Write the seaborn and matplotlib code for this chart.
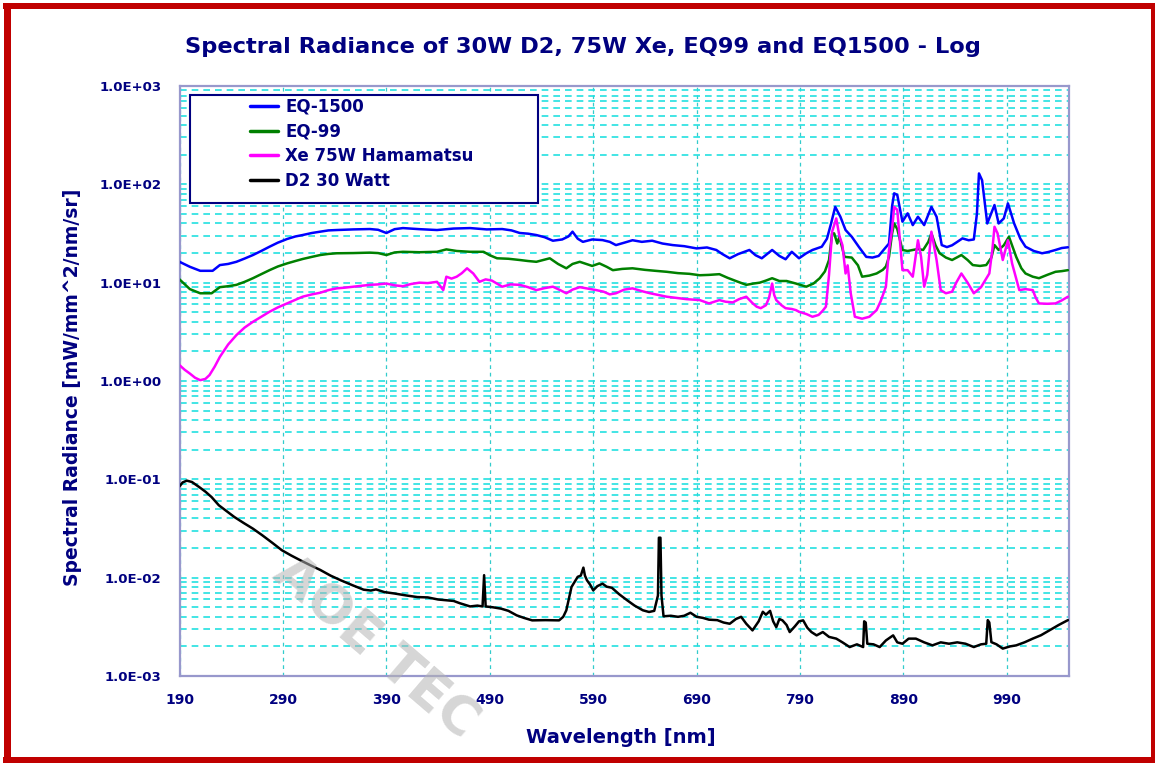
import numpy as np
import pandas as pd
import matplotlib
matplotlib.use("Agg")
import matplotlib.pyplot as plt
import seaborn as sns
from matplotlib.ticker import FixedLocator, LogLocator, FuncFormatter, NullFormatter
from matplotlib.patches import Rectangle

# spectra (wavelength in nm, radiance in mW/mm^2/nm/sr)
eq1500_nm = [190, 200, 210, 222, 229, 237, 245, 253, 261, 269, 277, 285, 294, 302, 309, 318, 326, 334, 342, 358,
             374, 382, 390, 398, 406, 422, 439, 455, 471, 487, 502, 511, 519, 527, 535, 543, 551, 560, 566, 570,
             575, 580, 589, 599, 606, 612, 620, 628, 637, 647, 657, 667, 678, 690, 700, 709, 715, 722, 730, 741,
             747, 753, 758, 763, 770, 776, 782, 789, 796, 802, 811, 816, 820, 824, 829, 834, 840, 847, 854, 860,
             866, 872, 876, 879, 881, 884, 889, 894, 899, 904, 910, 917, 922, 927, 932, 937, 942, 947, 953, 958,
             961, 963, 966, 971, 978, 982, 987, 991, 997, 1003, 1008, 1016, 1024, 1030, 1037, 1043, 1049]
eq1500_val = [16.3, 14.5, 13.2, 13.2, 15.1, 15.5, 16.3, 17.6, 19.1, 21.0, 23.2, 25.5, 27.8, 29.5, 30.5, 32, 33, 34, 34.3, 34.8,
              35.1, 34.5, 32, 35, 35.9, 35.0, 34.3, 35.5, 35.9, 34.8, 35.1, 34.0, 32, 31.5, 30.5, 29, 26.7, 27.5, 29.5, 33,
              28, 26, 27.5, 27.1, 26, 24.1, 25.5, 27, 26, 26.7, 25, 24.1, 23.5, 22.3, 22.8, 21.5, 19.5, 17.7, 19.5, 21.5,
              19.0, 17.7, 19.5, 21.5, 18.7, 17.3, 20.6, 17.7, 19.9, 21.5, 23.2, 28, 40, 59, 46.8, 34.3, 29.3, 23, 18.3, 18.0,
              18.7, 22.3, 25, 60, 81, 78, 41.7, 50.7, 38.5, 46.8, 38.5, 59, 46.8, 24.1, 23, 24, 26, 28.2, 27, 27.5,
              50, 129, 110, 40, 61.6, 40, 45, 64, 40, 28, 23.2, 21, 19.9, 20.5, 21.5, 22.5, 22.9]

eq99_nm = [190, 200, 210, 221, 229, 237, 245, 253, 261, 269, 277, 285, 294, 302, 309, 318, 326, 334, 342, 358,
           374, 382, 390, 398, 406, 422, 439, 448, 458, 471, 484, 490, 497, 508, 519, 527, 535, 548, 556, 564,
           570, 577, 589, 596, 603, 609, 618, 628, 640, 650, 661, 672, 683, 693, 702, 712, 720, 729, 738, 745,
           751, 757, 763, 770, 777, 786, 796, 803, 809, 814, 818, 821, 823, 826, 828, 833, 840, 846, 850, 857,
           864, 870, 873, 876, 879, 881, 884, 889, 894, 899, 904, 909, 914, 917, 921, 925, 931, 937, 946, 952,
           957, 964, 970, 975, 978, 982, 987, 992, 999, 1004, 1008, 1015, 1021, 1029, 1037, 1043, 1049]
eq99_val = [10.8, 8.6, 7.8, 7.8, 9.0, 9.2, 9.5, 10.2, 11.1, 12.2, 13.4, 14.6, 15.7, 16.6, 17.4, 18.3, 19.1, 19.6, 19.9, 20.0,
            20.2, 20.0, 19.1, 20.3, 20.6, 20.4, 20.6, 21.8, 21.0, 20.6, 20.6, 19.0, 17.7, 17.5, 17, 16.6, 16.3, 17.7, 15.5, 14,
            15.5, 16.3, 14.8, 15.7, 14.5, 13.4, 13.8, 14, 13.5, 13.2, 12.9, 12.5, 12.3, 11.9, 12.0, 12.2, 11.2, 10.3, 9.5, 9.8,
            10, 10.5, 11.1, 10.4, 10.4, 9.8, 9.1, 9.8, 11.1, 13, 17, 31.7, 31.7, 25, 29.3, 18.3, 18.0, 15, 11.5, 11.8,
            12.4, 13.5, 14.6, 18.3, 31.7, 40, 35, 21.5, 21, 21.5, 22, 21.5, 26, 31.7, 24, 19.9, 18, 17, 19.1, 17,
            15.1, 14.8, 15.1, 18, 24.1, 21.5, 24, 29.3, 18.3, 14, 12.4, 11.5, 11.1, 12.0, 12.9, 13.1, 13.4]

xe_nm = [190, 195, 200, 205, 210, 215, 219, 224, 229, 237, 245, 253, 261, 269, 277, 285, 294, 302, 309, 318,
         326, 334, 342, 350, 358, 366, 374, 382, 390, 398, 406, 414, 422, 430, 439, 445, 448, 453, 458, 463,
         468, 474, 480, 486, 492, 502, 510, 519, 527, 535, 543, 551, 558, 564, 570, 577, 585, 593, 600, 606,
         612, 620, 628, 637, 645, 653, 661, 670, 680, 693, 702, 712, 718, 725, 731, 738, 744, 748, 752, 757,
         760, 763, 765, 767, 772, 776, 782, 786, 789, 796, 802, 808, 812, 815, 818, 821, 825, 828, 831, 834,
         836, 839, 843, 850, 857, 864, 868, 873, 876, 879, 881, 884, 889, 894, 899, 904, 907, 910, 913, 917,
         922, 926, 931, 937, 941, 946, 952, 958, 965, 973, 976, 978, 981, 986, 991, 995, 1002, 1008, 1015, 1018,
         1021, 1029, 1037, 1043, 1049]
xe_val = [1.45, 1.3, 1.19, 1.08, 1.02, 1.05, 1.15, 1.4, 1.76, 2.35, 2.93, 3.5, 4.0, 4.5, 5.06, 5.6, 6.15, 6.7, 7.2, 7.6,
          7.9, 8.4, 8.75, 8.9, 9.1, 9.3, 9.5, 9.6, 9.8, 9.4, 9.2, 9.7, 10, 9.9, 10.2, 8.4, 11.5, 11.0, 11.5, 12.5,
          14, 12.4, 10.2, 10.8, 10.5, 9.1, 9.6, 9.5, 9.0, 8.4, 8.8, 9.1, 8.4, 7.8, 8.5, 9.0, 8.7, 8.4, 8.1, 7.6,
          7.8, 8.5, 8.75, 8.2, 7.8, 7.5, 7.2, 7.0, 6.8, 6.65, 6.15, 6.65, 6.4, 6.3, 6.8, 7.2, 6.2, 5.7, 5.5, 5.9,
          7.0, 9.8, 7.5, 6.65, 5.9, 5.5, 5.4, 5.26, 5.06, 4.8, 4.5, 4.7, 5.2, 5.7, 12, 33, 45, 30, 24, 12.4,
          15, 7.8, 4.5, 4.3, 4.5, 5.26, 6.5, 9.1, 21.5, 35, 59, 55, 13.4, 13.4, 11.5, 27, 18.3, 9.1, 12, 33,
          17, 8.4, 7.8, 8.1, 10, 12.4, 10, 7.8, 9, 12.4, 22, 37, 31.7, 17, 27, 15.7, 8.4, 8.6, 8.4, 7.0,
          6.15, 6.1, 6.15, 6.6, 7.2]

d2_nm = [190, 193, 197, 202, 209, 215, 221, 228, 235, 243, 252, 261, 270, 280, 289, 298, 307, 317, 326, 336,
         346, 357, 368, 375, 380, 388, 398, 409, 420, 430, 440, 449, 455, 461, 471, 478, 483, 484.5, 486, 493,
         501, 508, 516, 523, 531, 544, 557, 561, 564, 569, 575, 578, 580.5, 582, 584, 587, 590, 594, 599, 603,
         608, 615, 623, 630, 638, 644, 649, 652.6, 653.5, 655, 656, 658, 665, 672, 678, 684, 690, 696, 702, 710,
         716, 722, 728, 733, 738, 744, 750, 754, 757, 761, 764, 767, 770, 773, 777, 780, 785, 789, 793, 797,
         801, 806, 812, 818, 825, 831, 838, 845, 851, 852, 853.5, 855, 861, 867, 873, 880, 884, 889, 895, 902,
         910, 918, 926, 934, 942, 950, 958, 965, 970, 971.5, 973, 975, 980, 986, 993, 999, 1007, 1015, 1023, 1031,
         1040, 1049]
d2_val = [0.085, 0.093, 0.097, 0.094, 0.0835, 0.075, 0.066, 0.0545, 0.048, 0.0414, 0.036, 0.0315, 0.027, 0.0225, 0.019, 0.0168, 0.015, 0.0133, 0.012, 0.0105,
          0.0094, 0.0084, 0.00755, 0.0074, 0.0076, 0.00714, 0.0069, 0.0066, 0.00635, 0.0063, 0.006, 0.00587, 0.0058, 0.0055, 0.0051, 0.0052, 0.0051, 0.0106, 0.0051, 0.0050,
          0.00484, 0.0046, 0.00414, 0.0039, 0.00368, 0.0037, 0.00368, 0.0040, 0.00466, 0.00804, 0.0102, 0.0105, 0.01265, 0.0105, 0.0094, 0.0085, 0.00743, 0.0082, 0.00869, 0.0081,
          0.0079, 0.0068, 0.00587, 0.0052, 0.00466, 0.00448, 0.0046, 0.0066, 0.0255, 0.0255, 0.0066, 0.00405, 0.0041, 0.0040, 0.0041, 0.0044, 0.0040, 0.0039, 0.00374, 0.0037,
          0.0035, 0.0034, 0.0038, 0.0040, 0.0034, 0.00291, 0.0036, 0.0045, 0.0042, 0.0046, 0.0036, 0.00314, 0.0038, 0.00368, 0.0033, 0.0028, 0.0032, 0.0036, 0.00368, 0.0031,
          0.0028, 0.00259, 0.0028, 0.0025, 0.0024, 0.0022, 0.00197, 0.0021, 0.00197, 0.0036, 0.0035, 0.00213, 0.0021, 0.00197, 0.0023, 0.00259, 0.0022, 0.00213, 0.0024, 0.0024,
          0.0022, 0.00205, 0.0022, 0.00213, 0.0022, 0.00213, 0.00197, 0.0021, 0.00213, 0.0037, 0.0035, 0.00221, 0.0021, 0.0019, 0.0020, 0.00205, 0.0022, 0.0024, 0.0026, 0.00291,
          0.0033, 0.0037]

lamps = ['EQ-1500', 'EQ-99', 'Xe 75W Hamamatsu', 'D2 30 Watt']
lamp_colors = ['#0000ff', '#008000', '#ff00ff', '#000000']
x_ticks = [190, 290, 390, 490, 590, 690, 790, 890, 990]

navy = '#000080'

# build one long table for seaborn
frames = []
for name, nm, val in zip(lamps, [eq1500_nm, eq99_nm, xe_nm, d2_nm], [eq1500_val, eq99_val, xe_val, d2_val]):
    frames.append(pd.DataFrame({'wavelength': nm, 'radiance': val, 'lamp': name}))
df = pd.concat(frames, ignore_index=True)

sns.set_style("white")
plt.rcParams['font.family'] = ['DejaVu Sans']
plt.rcParams['font.weight'] = 'bold'

fig = plt.figure(figsize=(11.56, 7.63), dpi=100)
ax = fig.add_axes([0.1553, 0.1140, 0.7694, 0.7733])

sns.lineplot(data=df, x='wavelength', y='radiance', hue='lamp', hue_order=lamps,
             palette=dict(zip(lamps, lamp_colors)), estimator=None, sort=False,
             linewidth=1.8, ax=ax, zorder=3)

ax.set_yscale('log')
ax.set_xlim(190, 1050)
ax.set_ylim(1e-3, 1e3)

ax.xaxis.set_major_locator(FixedLocator(x_ticks))
ax.xaxis.set_minor_locator(FixedLocator(np.arange(190, 1051, 20)))
ax.yaxis.set_major_locator(LogLocator(base=10, numticks=10))
ax.yaxis.set_minor_locator(LogLocator(base=10, subs=np.arange(2, 10), numticks=20))
ax.yaxis.set_major_formatter(FuncFormatter(lambda v, p: f"{v:.1E}"))
ax.yaxis.set_minor_formatter(NullFormatter())

ax.grid(which='major', axis='x', color='#33cccc', linestyle=(0, (3, 3)), linewidth=0.9, zorder=1)
ax.grid(which='both', axis='y', color='#22e0e0', linestyle=(0, (4, 3)), linewidth=1.2, zorder=1)

ax.tick_params(which='both', direction='in', color=navy, labelcolor=navy)
ax.tick_params(which='major', length=4, width=1.2, labelsize=10)
ax.tick_params(axis='y', which='major', labelsize=9.5, pad=13)
ax.tick_params(axis='x', which='major', pad=12)
ax.tick_params(which='minor', length=3, width=1.0)

for s in ax.spines.values():
    s.set_color('#9898cc')
    s.set_linewidth(1.6)

ax.set_xlabel('Wavelength [nm]', fontsize=14, fontweight='bold', color=navy)
ax.set_ylabel('Spectral Radiance [mW/mm^2/nm/sr]', fontsize=13.5, fontweight='bold', color=navy)
ax.xaxis.set_label_coords(0.4964, -0.088)
ax.yaxis.set_label_coords(-0.110, 0.49)

fig.text(583 / 1156, 1 - 47 / 763, 'Spectral Radiance of 30W D2, 75W Xe, EQ99 and EQ1500 - Log',
         ha='center', va='center', fontsize=16.2, fontweight='bold', color=navy)

# legend: white box plus a frameless legend inside it
ax.add_patch(Rectangle((0.0118, 0.8017), 0.3912, 0.183, transform=ax.transAxes,
                       facecolor='white', edgecolor=navy, linewidth=1.5, zorder=5))
handles, labels = ax.get_legend_handles_labels()
leg = ax.legend(handles, labels, loc='upper left', bbox_to_anchor=(0.0793, 0.98),
                frameon=False, fontsize=12, labelcolor=navy, handlelength=1.7,
                handletextpad=0.4, labelspacing=0.4, borderpad=0, borderaxespad=0)
leg.set_zorder(6)
for h in leg.get_lines():
    h.set_linewidth(2.5)

# red frame around the whole picture
red = '#c00000'
for (x0, y0, w, h) in [(3, 3, 1152, 6), (4, 3, 7, 760), (1151, 3, 4, 760), (3, 757, 1152, 6)]:
    fig.add_artist(Rectangle((x0 / 1156, 1 - (y0 + h) / 763), w / 1156, h / 763,
                             transform=fig.transFigure, facecolor=red, edgecolor='none', zorder=10))

# watermark (runs off the bottom edge in the original)
fig.text(280 / 1156, 1 - 566 / 763, 'AOE TEC', rotation=-40.6, rotation_mode='anchor',
         ha='left', va='center', fontsize=38, fontweight='bold', color='#b4b4b4', alpha=0.55, zorder=20)

fig.savefig('out.png', dpi=100)
